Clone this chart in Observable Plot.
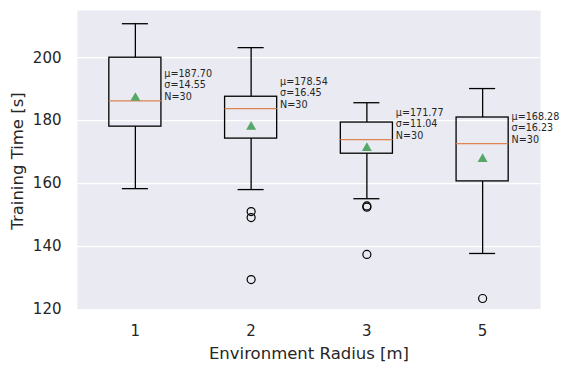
<!DOCTYPE html>
<html>
<head>
<meta charset="utf-8">
<script src="https://cdn.jsdelivr.net/npm/d3@7"></script>
<script src="https://cdn.jsdelivr.net/npm/@observablehq/plot@0.6"></script>
<style>
  html, body { margin: 0; padding: 0; background: white; }
</style>
</head>
<body>
<div id="chart"></div>
<script>
const radii = ["1", "2", "3", "5"];
const q1 = [178.1, 174.3, 169.5, 160.7];
const medians = [186.3, 183.8, 174.0, 172.7];
const q3 = [200.0, 187.6, 179.4, 181.0];
const whiskerLow = [158.4, 158.1, 155.2, 137.8];
const whiskerHigh = [210.8, 203.2, 185.7, 190.2];
const means = [187.70, 178.54, 171.77, 168.28];
const sigmas = [14.55, 16.45, 11.04, 16.23];
const counts = [30, 30, 30, 30];
const outliers = [[], [151.1, 149.2, 129.5], [152.9, 152.5, 137.5], [123.5]];
const yTicks = [120, 140, 160, 180, 200];
const xLabel = "Environment Radius [m]";
const yLabel = "Training Time [s]";

const boxes = radii.map((r, i) => ({
  pos: i + 1, label: r, q1: q1[i], med: medians[i], q3: q3[i],
  lo: whiskerLow[i], hi: whiskerHigh[i], mean: means[i], sigma: sigmas[i], n: counts[i]
}));
const fliers = outliers.flatMap((arr, i) => arr.map(v => ({pos: i + 1, v})));

const halfBox = 0.225, halfCap = 0.1125;

const chart = Plot.plot({
  width: 570,
  height: 373,
  marginLeft: 77,
  marginRight: 30,
  marginTop: 10,
  marginBottom: 64,
  style: {fontFamily: "DejaVu Sans", color: "#262626", background: "white"},
  x: {type: "linear", domain: [0.5, 4.5]},
  y: {domain: [120, 215]},
  marks: [
    Plot.frame({fill: "#eaeaf2", stroke: null}),
    Plot.gridY(yTicks, {stroke: "white", strokeOpacity: 1, strokeWidth: 1.2}),
    Plot.ruleX(boxes, {x: "pos", y1: "q3", y2: "hi", stroke: "black", strokeWidth: 1.3}),
    Plot.ruleX(boxes, {x: "pos", y1: "lo", y2: "q1", stroke: "black", strokeWidth: 1.3}),
    Plot.ruleY(boxes, {y: "hi", x1: d => d.pos - halfCap, x2: d => d.pos + halfCap, stroke: "black", strokeWidth: 1.3}),
    Plot.ruleY(boxes, {y: "lo", x1: d => d.pos - halfCap, x2: d => d.pos + halfCap, stroke: "black", strokeWidth: 1.3}),
    Plot.rect(boxes, {x1: d => d.pos - halfBox, x2: d => d.pos + halfBox, y1: "q1", y2: "q3", fill: "none", stroke: "black", strokeWidth: 1.3}),
    Plot.ruleY(boxes, {y: "med", x1: d => d.pos - halfBox, x2: d => d.pos + halfBox, stroke: "#dd8452", strokeWidth: 1.3}),
    Plot.dot(boxes, {x: "pos", y: "mean", symbol: "triangle", r: 3.7, fill: "#55a868", stroke: null, dy: 1.5}),
    Plot.dot(fliers, {x: "pos", y: "v", r: 4, fill: "none", stroke: "black", strokeWidth: 1.2}),
    Plot.text(boxes, {
      x: d => d.pos + 0.25, y: "med",
      text: d => `μ=${d.mean.toFixed(2)}\nσ=${d.sigma.toFixed(2)}\nN=${d.n}`,
      textAnchor: "start", lineAnchor: "bottom", fontSize: 9.6, lineHeight: 1.2,
      fill: "#262626", dy: -1
    }),
    Plot.axisY(yTicks, {tickSize: 0, tickPadding: 16, fontSize: 15, label: null, fill: "#262626"}),
    Plot.axisX(boxes.map(d => d.pos), {tickSize: 0, tickPadding: 16, fontSize: 15, label: null,
      tickFormat: d => radii[d - 1], fill: "#262626"}),
    Plot.text([yLabel], {frameAnchor: "left", dx: -59.5, dy: 1, rotate: -90, text: d => d,
      fontSize: 16.5, fill: "#262626", textAnchor: "middle", lineAnchor: "middle"}),
    Plot.text([xLabel], {frameAnchor: "bottom", dy: 44, text: d => d,
      fontSize: 16.5, fill: "#262626", textAnchor: "middle", lineAnchor: "middle"})
  ]
});
document.getElementById("chart").appendChild(chart);
</script>
</body>
</html>
